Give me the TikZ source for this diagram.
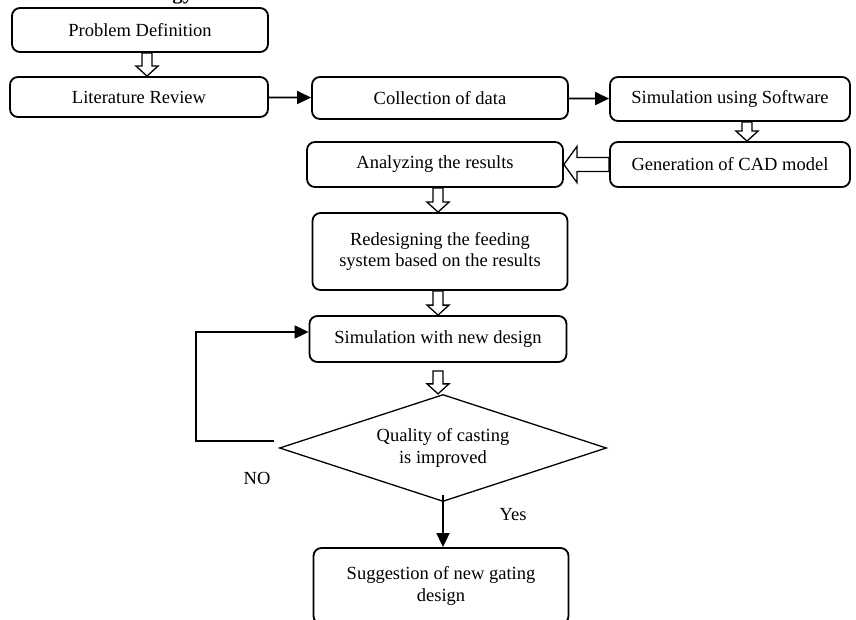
\documentclass[tikz,border=0pt]{standalone}
\usepackage{fontspec}
\setmainfont{Liberation Serif}
\usetikzlibrary{arrows.meta,shapes.geometric,calc}
\newcommand{\FatDown}[2]{\draw[line width=1.3pt, fill=white] ($(#1)+(-5,0)$) -- ($(#2)+(-5,-10)$) -- ($(#2)+(-11,-10)$) -- (#2) -- ($(#2)+(11,-10)$) -- ($(#2)+(5,-10)$) -- ($(#1)+(5,0)$) -- cycle;}
\newcommand{\FatLeft}[2]{\draw[line width=1.3pt, fill=white] ($(#1)+(0,-7)$) -- ($(#2)+(13,-7)$) -- ($(#2)+(13,-18)$) -- (#2) -- ($(#2)+(13,18)$) -- ($(#2)+(13,7)$) -- ($(#1)+(0,7)$) -- cycle;}

\begin{document}
\begin{tikzpicture}[x=1pt, y=-1pt, font=\fontsize{18.5}{21.5}\selectfont,
  >={Triangle[length=14pt,width=13pt]},
  stage/.style={draw, line width=1.8pt, rounded corners=8pt, align=center, inner sep=0pt},
  flow/.style={->, line width=1.8pt}]
\useasboundingbox (0,0) rectangle (856,620);
\node[font=\fontsize{21}{24}\selectfont\bfseries, anchor=base east] (ttl) at (197,0) {Methodology};
\node[stage, minimum width=256pt, minimum height=44pt] (prob) at (140,30) {Problem Definition};
\node[stage, minimum width=258pt, minimum height=40pt] (lit) at (139,97) {Literature Review};
\node[stage, minimum width=256pt, minimum height=42pt] (coll) at (440,98) {Collection of data};
\node[stage, minimum width=240pt, minimum height=44pt] (simsw) at (730,99) {Simulation using Software};
\node[stage, minimum width=240pt, minimum height=45pt] (cad) at (730,164.5) {Generation of CAD model};
\node[stage, minimum width=256pt, minimum height=45pt] (anal) at (435,164.5) {Analyzing the results};
\node[stage, minimum width=255pt, minimum height=77pt] (redes) at (440,251.5) {Redesigning the feeding\\system based on the results};
\node[stage, minimum width=257pt, minimum height=46pt] (simnew) at (438,339) {Simulation with new design};
\node[draw, diamond, aspect=3, line width=1.3pt, minimum width=327pt, minimum height=107pt, inner sep=0pt, align=center] (dia) at (443,448) {Quality of casting\\is improved};
\node[stage, minimum width=255pt, minimum height=76pt] (sugg) at (441,586) {Suggestion of new gating\\design};
\node (no) at (257,478) {NO};
\node (yes) at (513,515) {Yes};
% solid connectors
\draw[flow] (lit) -- (coll);
\draw[flow] (coll) -- (simsw);
\draw[flow] ($(dia.south)+(0,-7)$) -- (sugg.north -| dia.south);
\draw[flow] ($(dia.west)+(-5,-7)$) -- ++(-78,0) |- ([yshift=7pt]simnew.west);
% hollow arrows
\coordinate (p1) at ([xshift=7pt]prob.south);
\coordinate (p2) at (p1 |- lit.north);
\FatDown{p1}{p2}
\coordinate (s1) at ([xshift=17pt]simsw.south);
\coordinate (s2) at (s1 |- cad.north);
\FatDown{s1}{s2}
\FatLeft{cad.west}{anal.east}
\coordinate (a1) at ([xshift=3pt]anal.south);
\coordinate (a2) at (a1 |- redes.north);
\FatDown{a1}{a2}
\coordinate (r1) at ([xshift=-2pt]redes.south);
\coordinate (r2) at (r1 |- simnew.north);
\FatDown{r1}{r2}
\coordinate (n1) at ($(simnew.south)+(0,8)$);
\coordinate (n2) at (n1 |- dia.north);
\FatDown{n1}{n2}
\end{tikzpicture}
\end{document}
